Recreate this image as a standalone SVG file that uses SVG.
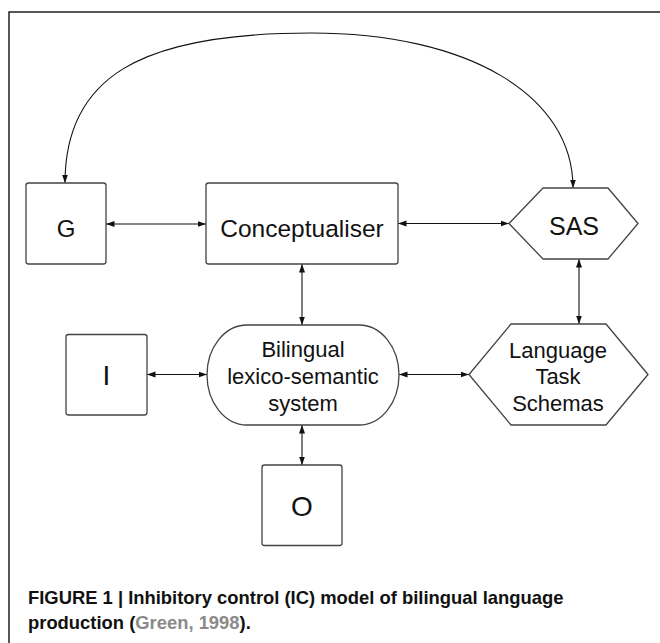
<svg xmlns="http://www.w3.org/2000/svg" width="660" height="643" viewBox="0 0 660 643">
<defs>
<marker id="ah" markerUnits="userSpaceOnUse" markerWidth="9" markerHeight="7" refX="8.5" refY="3.5" orient="auto-start-reverse">
<path d="M0,0.5 L8.5,3.5 L0,6.5 z" fill="#111"/>
</marker>
<style>
.bx{fill:#fff;stroke:#444;stroke-width:1.3}
.t{font-family:"Liberation Sans",Arial,Helvetica,sans-serif;fill:#111;text-anchor:middle}
.c{stroke:#111;stroke-width:1.1;fill:none;marker-start:url(#ah);marker-end:url(#ah)}
.cap{font-family:"Liberation Sans",Arial,Helvetica,sans-serif;font-weight:bold;font-size:18.4px;fill:#111}
</style>
</defs>
<rect width="660" height="643" fill="#fff"/>
<rect x="9" y="12" width="700" height="700" fill="none" stroke="#222" stroke-width="1.5"/>

<g id="connectors">
<path class="c" d="M65,183 C65,78 139,33 311,33 C468,33 573,95 573,188"/>
<line class="c" x1="106" y1="224" x2="206" y2="224"/>
<line class="c" x1="398" y1="223.5" x2="509" y2="223.5"/>
<line class="c" x1="302" y1="264" x2="302" y2="325"/>
<line class="c" x1="579" y1="259" x2="579" y2="324"/>
<line class="c" x1="147" y1="374.5" x2="207" y2="374.5"/>
<line class="c" x1="399" y1="374.5" x2="469" y2="374.5"/>
<line class="c" x1="302" y1="425" x2="302" y2="465"/>
</g>

<g id="node-G">
<rect class="bx" x="26" y="183" width="80" height="81" rx="2.5"/>
<text class="t" x="66" y="236.5" font-size="24">G</text>
</g>
<g id="node-conceptualiser">
<rect class="bx" x="206" y="183" width="192" height="81" rx="2.5"/>
<text class="t" x="302" y="237" font-size="24.5">Conceptualiser</text>
</g>
<g id="node-SAS">
<path class="bx" d="M509,223.5 L543,188 L608,188 L638,223.5 L608,259 L543,259 Z" stroke-linejoin="round"/>
<text class="t" x="574" y="235" font-size="25">SAS</text>
</g>
<g id="node-I">
<rect class="bx" x="66" y="334.5" width="81" height="80.5" rx="2.5"/>
<text class="t" x="106.5" y="385" font-size="28">I</text>
</g>
<g id="node-bilingual">
<rect class="bx" x="207" y="325" width="192" height="100" rx="40" ry="50"/>
<text class="t" x="303" y="357" font-size="22">Bilingual</text>
<text class="t" x="303" y="384" font-size="22">lexico-semantic</text>
<text class="t" x="303" y="410.5" font-size="22">system</text>
</g>
<g id="node-LTS">
<path class="bx" d="M469,374.5 L511,324 L606,324 L648,374.5 L606,425 L511,425 Z" stroke-linejoin="round"/>
<text class="t" x="558" y="357.5" font-size="22">Language</text>
<text class="t" x="558" y="384" font-size="22">Task</text>
<text class="t" x="558" y="410.5" font-size="22">Schemas</text>
</g>
<g id="node-O">
<rect class="bx" x="262" y="465" width="80" height="80.5" rx="2.5"/>
<text class="t" x="302" y="516" font-size="28">O</text>
</g>

<g id="caption">
<text class="cap" x="28" y="603.5">FIGURE 1 | Inhibitory control (IC) model of bilingual language</text>
<text class="cap" x="28" y="628.5">production (<tspan fill="#8a8a8a">Green, 1998</tspan>).</text>
</g>
</svg>
